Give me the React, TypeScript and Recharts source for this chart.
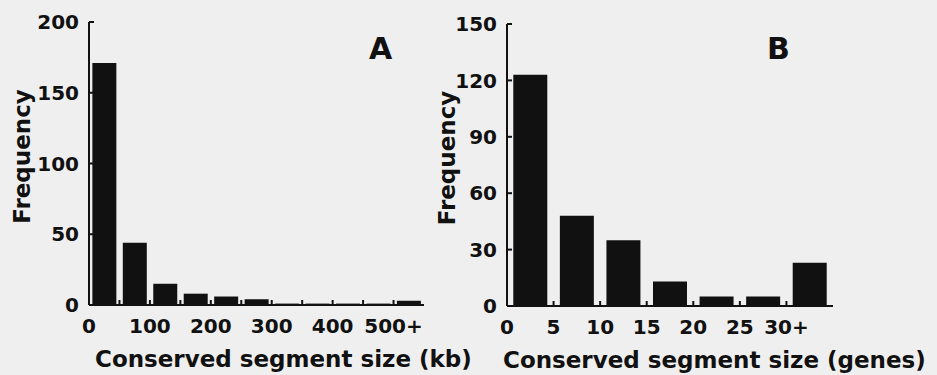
import React from "react";
import { BarChart, Bar, XAxis, YAxis } from "recharts";

// Panel A: segment size in kb, 50 kb bins, last bin open-ended
const kbBins = ["0-50", "50-100", "100-150", "150-200", "200-250", "250-300", "300-350", "350-400", "400-450", "450-500", "500+"];
const kbFrequency = [171, 44, 15, 8, 6, 4, 1, 1, 1, 1, 3];
const kbEdgeLabels = ["0", "", "100", "", "200", "", "300", "", "400", "", "500+"];
const kbYTicks = [0, 50, 100, 150, 200];

// Panel B: segment size in genes, 5-gene bins
const geneBins = ["0-5", "5-10", "10-15", "15-20", "20-25", "25-30", "30+"];
const geneFrequency = [123, 48, 35, 13, 5, 5, 23];
const geneEdgeLabels = ["0", "5", "10", "15", "20", "25", "30+"];
const geneYTicks = [0, 30, 60, 90, 120, 150];

const FONT = "'DejaVu Sans', 'Liberation Sans', Arial, sans-serif";
const INK = "#111111";
const Y_AXIS_W = 60;

const tickStyle = { fontFamily: FONT, fontWeight: 700, fontSize: 20, fill: INK };
const axisStroke = { stroke: INK, strokeWidth: 2 };

type HistProps = {
  bins: string[];
  values: number[];
  edgeLabels: string[];
  yTicks: number[];
  xTitle: string;
  width: number;
  margin: { top: number; right: number; bottom: number; left: number };
  gap: string;
  yTitleInset: number;
  xTitleDx: number;
};

function Histogram(p: HistProps) {
  const data = p.bins.map((bin, i) => ({ bin, count: p.values[i] }));
  const yMax = p.yTicks[p.yTicks.length - 1];
  const band = (p.width - p.margin.left - p.margin.right - Y_AXIS_W) / p.bins.length;

  // label + inward tick mark sit on the left edge of each bin
  const edgeTick = (props: any) => {
    const { x, y, index } = props;
    const ex = x - band / 2;
    return (
      <g>
        {index > 0 && <line x1={ex} y1={y} x2={ex} y2={y - 5} stroke={INK} strokeWidth={2} />}
        <text x={ex} y={y + 28} textAnchor="middle" style={tickStyle}>
          {p.edgeLabels[index]}
        </text>
      </g>
    );
  };

  const yTitle = (props: any) => {
    const vb = props.viewBox || {};
    const bx = vb.x + vb.width - p.yTitleInset;
    const cy = vb.y + vb.height / 2 - 7;
    return (
      <text
        x={0}
        y={0}
        transform={`translate(${bx}, ${cy}) rotate(-90)`}
        textAnchor="middle"
        style={{ fontFamily: FONT, fontWeight: 700, fontSize: 23, fill: INK }}
      >
        Frequency
      </text>
    );
  };

  const xTitle = (props: any) => {
    const vb = props.viewBox || {};
    return (
      <text
        x={vb.x + p.xTitleDx}
        y={vb.y + 62}
        textAnchor="start"
        style={{ fontFamily: FONT, fontWeight: 700, fontSize: 23, fill: INK }}
      >
        {p.xTitle}
      </text>
    );
  };

  return (
    <BarChart width={p.width} height={375} data={data} margin={p.margin} barCategoryGap={p.gap}>
      <XAxis
        dataKey="bin"
        interval={0}
        tickLine={false}
        tickSize={0}
        tickMargin={0}
        axisLine={axisStroke}
        tick={edgeTick}
        height={30}
        label={{ value: p.xTitle, content: xTitle }}
      />
      <YAxis
        domain={[0, yMax]}
        ticks={p.yTicks}
        interval={0}
        allowDataOverflow
        width={Y_AXIS_W}
        tickSize={-5}
        tickMargin={15}
        axisLine={axisStroke}
        tickLine={axisStroke}
        tick={tickStyle}
        label={{ value: "Frequency", content: yTitle }}
      />
      <Bar dataKey="count" fill={INK} isAnimationActive={false} />
    </BarChart>
  );
}

const panelLetter: React.CSSProperties = {
  position: "absolute",
  fontFamily: FONT,
  fontWeight: 700,
  fontSize: 30,
  lineHeight: 1,
  color: INK,
};

export default function App() {
  return (
    <div style={{ position: "absolute", left: 0, top: 0, width: 937, height: 375, background: "#efefef", overflow: "hidden" }}>
      <div style={{ position: "absolute", left: 0, top: 0 }}>
        <Histogram
          bins={kbBins}
          values={kbFrequency}
          edgeLabels={kbEdgeLabels}
          yTicks={kbYTicks}
          xTitle="Conserved segment size (kb)"
          width={480}
          margin={{ top: 22, right: 56, bottom: 40, left: 29 }}
          gap="11%"
          yTitleInset={59}
          xTitleDx={6}
        />
      </div>
      <div style={{ position: "absolute", left: 420, top: 0 }}>
        <Histogram
          bins={geneBins}
          values={geneFrequency}
          edgeLabels={geneEdgeLabels}
          yTicks={geneYTicks}
          xTitle="Conserved segment size (genes)"
          width={517}
          margin={{ top: 24, right: 104, bottom: 39, left: 27 }}
          gap="13.5%"
          yTitleInset={52}
          xTitleDx={-4}
        />
      </div>
      <div style={{ ...panelLetter, left: 369, top: 34 }}>A</div>
      <div style={{ ...panelLetter, left: 767, top: 34 }}>B</div>
    </div>
  );
}
